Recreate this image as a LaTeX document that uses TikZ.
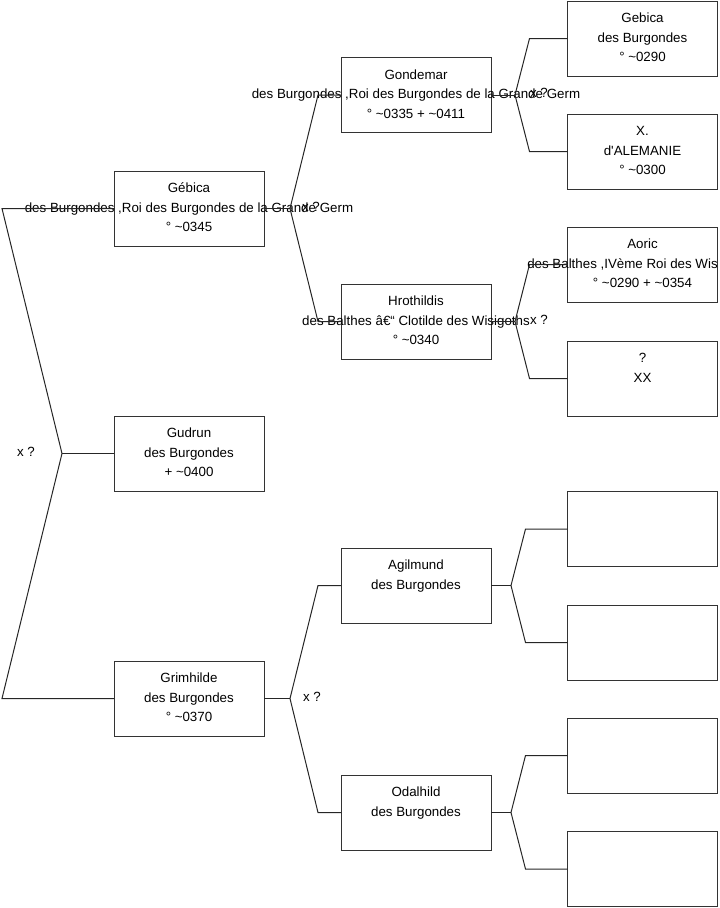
\documentclass[tikz,border=0pt]{standalone}
\usepackage{fontspec}
\setmainfont{Liberation Sans}
\usetikzlibrary{calc}
\tikzset{
  box/.style={draw=black!80, line width=0.75pt, minimum width=112.5pt, minimum height=56.25pt, inner sep=0pt, outer sep=0pt},
  txt/.style={align=center, font=\fontsize{10}{14.6}\selectfont, inner sep=0pt, text=black},
  link/.style={draw=black!85, line width=0.75pt},
  lbl/.style={font=\fontsize{10}{12}\selectfont, inner sep=0pt, text=black}
}
\newcommand\fambox[5]{%
  \node[box] (#1) at (#2) {};
  \node[txt] (#1-t) at (#1.center) {\strut #3\\\strut #4\\\strut #5};}
\begin{document}
\begin{tikzpicture}[x=0.75pt,y=-0.75pt]
\useasboundingbox (0,0) rectangle (719,908);

% generation 1
\fambox{gebica}{189,208.5}{Gébica}{des Burgondes ,Roi des Burgondes de la Grande Germ}{° \textasciitilde0345}
\fambox{gudrun}{189,453.5}{Gudrun}{des Burgondes}{+ \textasciitilde0400}
\fambox{grimhilde}{189,698.5}{Grimhilde}{des Burgondes}{° \textasciitilde0370}

% generation 2
\fambox{gondemar}{416,95}{Gondemar}{des Burgondes ,Roi des Burgondes de la Grande Germ}{° \textasciitilde0335 + \textasciitilde0411}
\fambox{hrothildis}{416,321.5}{Hrothildis}{des Balthes â€“ Clotilde des Wisigoths}{° \textasciitilde0340}
\fambox{agilmund}{416,585.5}{Agilmund}{des Burgondes}{}
\fambox{odalhild}{416,812.5}{Odalhild}{des Burgondes}{}

% generation 3
\fambox{gebica2}{642.5,38.5}{Gebica}{des Burgondes}{° \textasciitilde0290}
\fambox{xalem}{642.5,151.5}{X.}{d\textquotesingle ALEMANIE}{° \textasciitilde0300}
\fambox{aoric}{642.5,264.5}{Aoric}{}{° \textasciitilde0290 + \textasciitilde0354}
\node[txt, anchor=west] (aoric-l2) at (527,264.5) {\strut des Balthes ,IVème Roi des Wis};
\fambox{unk}{642.5,378.5}{?}{XX}{}
\fambox{e1}{642.5,529}{}{}{}
\fambox{e2}{642.5,642.5}{}{}{}
\fambox{e3}{642.5,755.5}{}{}{}
\fambox{e4}{642.5,869}{}{}{}

% root fork
\coordinate (f0) at (62,453.5);
\draw[link] (gudrun.west) -- (f0);
\draw[link] (f0) -- ($(gebica.west)+(-112,0)$) -- (gebica.west);
\draw[link] (f0) -- ($(grimhilde.west)+(-112,0)$) -- (grimhilde.west);
\node[lbl] (x0) at (26,452) {x ?};

% Gebica fork
\coordinate (f1) at (290,208.5);
\draw[link] (gebica.east) -- (f1);
\draw[link] (f1) -- ($(gondemar.west)+(-23,0)$) -- (gondemar.west);
\draw[link] (f1) -- ($(hrothildis.west)+(-23,0)$) -- (hrothildis.west);
\node[lbl] (x1) at (311,207) {x ?};

% Grimhilde fork
\coordinate (f2) at (290,698.5);
\draw[link] (grimhilde.east) -- (f2);
\draw[link] (f2) -- ($(agilmund.west)+(-23,0)$) -- (agilmund.west);
\draw[link] (f2) -- ($(odalhild.west)+(-23,0)$) -- (odalhild.west);
\node[lbl] (x2) at (312,697) {x ?};

% Gondemar fork
\coordinate (f3) at (515,95);
\draw[link] (gondemar.east) -- (f3);
\draw[link] (f3) -- ($(gebica2.west)+(-38,0)$) -- (gebica2.west);
\draw[link] (f3) -- ($(xalem.west)+(-38,0)$) -- (xalem.west);
\node[lbl] (x3) at (539,93) {x ?};

% Hrothildis fork
\coordinate (f4) at (515,321.5);
\draw[link] (hrothildis.east) -- (f4);
\draw[link] (f4) -- ($(aoric.west)+(-38,0)$) -- (aoric.west);
\draw[link] (f4) -- ($(unk.west)+(-38,0)$) -- (unk.west);
\node[lbl] (x4) at (539,320) {x ?};

% Agilmund fork
\coordinate (f5) at (511,585.5);
\draw[link] (agilmund.east) -- (f5);
\draw[link] (f5) -- ($(e1.west)+(-42,0)$) -- (e1.west);
\draw[link] (f5) -- ($(e2.west)+(-42,0)$) -- (e2.west);

% Odalhild fork
\coordinate (f6) at (511,812.5);
\draw[link] (odalhild.east) -- (f6);
\draw[link] (f6) -- ($(e3.west)+(-42,0)$) -- (e3.west);
\draw[link] (f6) -- ($(e4.west)+(-42,0)$) -- (e4.west);
\end{tikzpicture}
\end{document}
